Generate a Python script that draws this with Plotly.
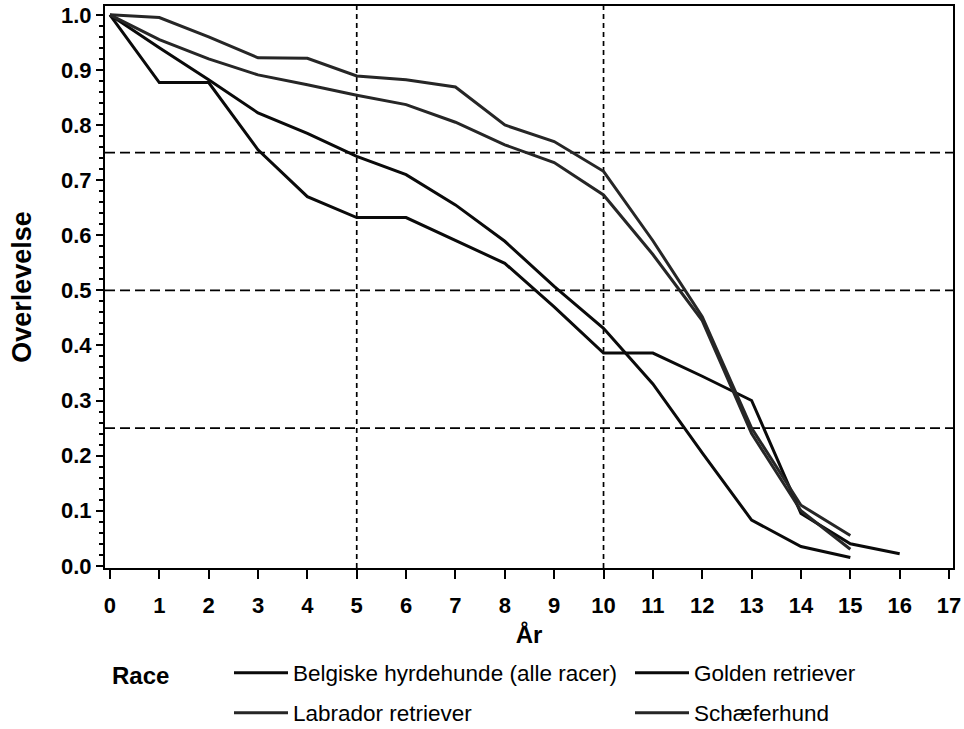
import plotly.graph_objects as go

# ---- data ----
years_15 = list(range(0, 16))
years_16 = list(range(0, 17))

belgiske = [1.0, 0.877, 0.877, 0.755, 0.67, 0.632, 0.632, 0.59, 0.549, 0.47,
            0.386, 0.386, 0.344, 0.30, 0.095, 0.04, 0.022]
golden = [1.0, 0.94, 0.882, 0.822, 0.785, 0.743, 0.71, 0.655, 0.589, 0.507,
          0.431, 0.33, 0.205, 0.083, 0.035, 0.015]
labrador = [1.0, 0.995, 0.96, 0.922, 0.921, 0.889, 0.882, 0.869, 0.80, 0.77,
            0.716, 0.59, 0.452, 0.25, 0.11, 0.055]
schaefer = [1.0, 0.955, 0.92, 0.891, 0.873, 0.854, 0.837, 0.805, 0.764, 0.732,
            0.673, 0.565, 0.445, 0.24, 0.10, 0.03]

series_names = ["Belgiske hyrdehunde (alle racer)", "Golden retriever",
                "Labrador retriever", "Schæferhund"]
ref_y = [0.25, 0.5, 0.75]
ref_x = [5, 10]
x_ticks = list(range(0, 18))
y_ticks = [round(i * 0.1, 1) for i in range(0, 11)]

FONT = "Liberation Sans, Arial, sans-serif"

W, H = 964, 729
ml, mr, mt, mb = 105, 11, 6, 161
pw, ph = W - ml - mr, H - mt - mb


def px_x(p):
    return (p - ml) / pw


def px_y(p):
    return (H - mb - p) / ph


fig = go.Figure()
traces = [
    (years_16, belgiske, series_names[0], "#0a0a0a", "legend"),
    (years_15, golden, series_names[1], "#0a0a0a", "legend2"),
    (years_15, labrador, series_names[2], "#262626", "legend3"),
    (years_15, schaefer, series_names[3], "#262626", "legend4"),
]
for xs, ys, name, col, lg in traces:
    fig.add_trace(go.Scatter(x=xs, y=ys, name=name, mode="lines",
                             line=dict(color=col, width=3), legend=lg))

for v in ref_y:
    fig.add_shape(type="line", xref="paper", yref="y", x0=0, x1=1, y0=v, y1=v,
                  line=dict(color="black", width=1.7, dash="10px,5px"), layer="below")
for v in ref_x:
    fig.add_shape(type="line", xref="x", yref="paper", x0=v, x1=v, y0=0, y1=1,
                  line=dict(color="black", width=1.7, dash="5px,4px"), layer="below")


def leg(xp, yp):
    return dict(orientation="h", x=px_x(xp), xanchor="left", y=px_y(yp), yanchor="middle",
                itemwidth=54, font=dict(family=FONT, size=22.5, color="black"),
                bgcolor="rgba(0,0,0,0)", borderwidth=0)


fig.update_layout(
    width=W, height=H,
    margin=dict(l=ml, r=mr, t=mt, b=mb, autoexpand=False),
    paper_bgcolor="white", plot_bgcolor="white",
    font=dict(family=FONT, color="black"),
    showlegend=True,
    legend=leg(229, 673),
    legend2=leg(630, 673),
    legend3=leg(229, 713),
    legend4=leg(630, 713),
    xaxis=dict(range=[-0.1, 17.08], tickvals=x_ticks, ticktext=[str(v) for v in x_ticks],
               ticks="outside", ticklen=9, tickwidth=2, tickcolor="black",
               showline=True, linecolor="black", linewidth=2, mirror=True,
               showgrid=False, zeroline=False, ticklabelstandoff=8, automargin=False,
               tickfont=dict(family=FONT, size=22, weight="bold"),
               title=dict(text="År", font=dict(family=FONT, size=24, weight="bold"), standoff=9)),
    yaxis=dict(range=[-0.004, 1.016], tickvals=y_ticks, ticktext=[f"{v:.1f}" for v in y_ticks],
               ticks="outside", ticklen=7, tickwidth=2, tickcolor="black",
               minor=dict(dtick=0.02, tick0=0, ticks="outside", ticklen=4, tickwidth=1.5, tickcolor="black"),
               showline=True, linecolor="black", linewidth=2, mirror=True,
               showgrid=False, zeroline=False, ticklabelstandoff=0, automargin=False,
               tickfont=dict(family=FONT, size=22, weight="bold"),
               title=dict(text="Overlevelse", font=dict(family=FONT, size=27, weight="bold"), standoff=22)),
    annotations=[dict(text="<b>Race</b>", xref="paper", yref="paper", x=px_x(110), y=px_y(675),
                      xanchor="left", yanchor="middle", showarrow=False,
                      font=dict(family=FONT, size=24, color="black"))],
)

fig.write_html("out.html", config={"displayModeBar": False},
               post_script="document.body.style.margin='0';")
